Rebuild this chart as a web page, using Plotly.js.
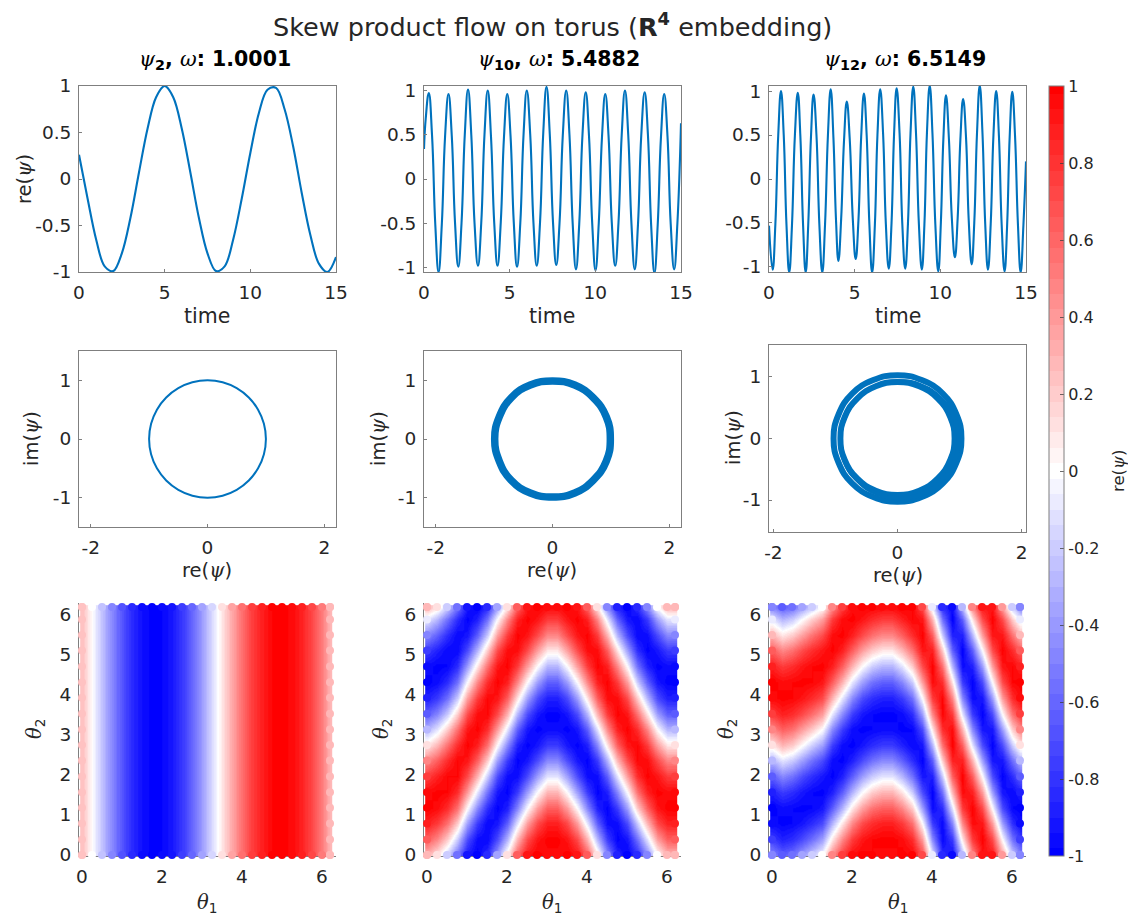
<!DOCTYPE html>
<html>
<head>
<meta charset="utf-8">
<script src="https://cdn.plot.ly/plotly-3.0.1.min.js"></script>
<style>html,body{margin:0;padding:0;background:#fff}#chart{width:1128px;height:917px}</style>
</head>
<body>
<div id="chart"></div>
<script>
// ---------- values ----------
var time1 = [0,.5,1,1.5,2,2.5,3,3.5,4,4.5,5,5.5,6,6.5,7,7.5,8,8.5,9,9.5,10,10.5,11,11.5,12,12.5,13,13.5,14,14.5,15];
var re1 = [.26,-.21,-.65,-.94,-.99,-.80,-.42,.07,.54,.88,1,.88,.54,.07,-.42,-.80,-.99,-.94,-.65,-.21,.28,.71,.96,.98,.75,.35,-.15,-.6,-.91,-1,-.84];

var time2 = [0,.1,.28,.47,.66,.85,1.04,1.23,1.43,1.62,1.81,2,2.19,2.38,2.57,2.76,2.95,3.15,3.34,3.53,3.72,3.91,4.1,4.29,4.48,4.67,4.86,5.05,5.24,5.43,5.62,5.81,6,6.2,6.39,6.58,6.77,6.96,7.15,7.34,7.53,7.72,7.91,8.1,8.3,8.49,8.68,8.87,9.06,9.25,9.44,9.63,9.82,10.01,10.2,10.39,10.58,10.77,10.96,11.16,11.35,11.54,11.73,11.92,12.11,12.3,12.49,12.68,12.88,13.07,13.26,13.45,13.64,13.83,14.02,14.21,14.4,14.6,14.79,15];
var re2 = [.34,.68,.97,.49,-.52,-1.05,-.51,.48,.96,.49,-.49,-.99,-.5,.5,1.01,.5,-.5,-.98,-.5,.5,1,.48,-.5,-.98,-.49,.48,.96,.49,-.49,-.99,-.5,.5,1,.5,-.5,-.98,-.5,.52,1.04,.51,-.49,-.97,-.5,.49,1,.5,-.51,-1.02,-.51,.5,.98,.49,-.51,-1.03,-.5,.48,.96,.49,-.49,-.98,-.5,.5,1,.5,-.51,-1.02,-.51,.49,.98,.5,-.53,-1.06,-.52,.47,.96,.49,-.51,-1.02,-.5,.63];

var time3 = [0,.21,.37,.54,.7,.86,1.02,1.18,1.34,1.51,1.68,1.83,1.99,2.14,2.29,2.45,2.6,2.77,2.94,3.11,3.27,3.44,3.6,3.76,3.91,4.05,4.21,4.38,4.54,4.71,4.89,5.06,5.22,5.38,5.54,5.7,5.86,6.02,6.18,6.33,6.49,6.66,6.82,6.99,7.15,7.3,7.45,7.62,7.78,7.95,8.11,8.26,8.42,8.58,8.75,8.92,9.07,9.22,9.38,9.54,9.71,9.88,10.03,10.18,10.33,10.5,10.67,10.85,11.01,11.17,11.33,11.5,11.66,11.83,11.98,12.14,12.3,12.46,12.62,12.78,12.94,13.1,13.26,13.42,13.58,13.75,13.9,14.05,14.2,14.36,14.53,14.69,14.85,15];
var re3 = [-.53,-1.03,-.52,.5,1,.5,-.52,-1.06,-.53,.49,.98,.49,-.53,-1.06,-.52,.48,.96,.5,-.52,-1.06,-.52,.5,1.02,.47,-.46,-.93,-.46,.44,.88,.46,-.45,-.91,-.47,.48,.97,.5,-.52,-1.06,-.52,.5,1.02,.51,-.51,-1.02,-.51,.51,1.03,.52,-.51,-1.02,-.51,.52,1.05,.52,-.52,-1.03,-.52,.53,1.06,.52,-.52,-1.05,-.5,.47,.95,.46,-.44,-.89,-.45,.45,.91,.47,-.48,-.97,-.5,.52,1.06,.52,-.51,-1.03,-.51,.5,1,.49,-.52,-1.05,-.52,.49,.99,.49,-.52,-1.06,-.52,.2];

var orbit1Re = [1,.966,.866,.707,.5,.259,0,-.259,-.5,-.707,-.866,-.966,-1,-.966,-.866,-.707,-.5,-.259,0,.259,.5,.707,.866,.966,1];
var orbit1Im = [0,.259,.5,.707,.866,.966,1,.966,.866,.707,.5,.259,0,-.259,-.5,-.707,-.866,-.966,-1,-.966,-.866,-.707,-.5,-.259,0];
var orbit2Re = [.99,.92,.70,.38,0,-.38,-.70,-.91,-.99,-.91,-.71,-.38,0,.38,.70,.92,.99];
var orbit2Im = [0,.38,.70,.92,.99,.92,.71,.38,0,-.38,-.70,-.92,-.99,-.92,-.70,-.38,0];
var orbit3aRe = [1.03,.95,.73,.39,0,-.39,-.73,-.95,-1.03,-.95,-.73,-.39,0,.39,.73,.95,1.03];
var orbit3aIm = [0,.39,.73,.95,1.03,.95,.73,.39,0,-.39,-.73,-.95,-1.03,-.95,-.73,-.39,0];
var orbit3bRe = [.92,.85,.65,.35,0,-.35,-.65,-.85,-.92,-.85,-.65,-.35,0,.35,.65,.85,.92];
var orbit3bIm = [0,.35,.65,.85,.92,.85,.65,.35,0,-.35,-.65,-.85,-.92,-.85,-.65,-.35,0];
var orbit3cRe = [.98,.91,.70,.39,.03,-.33,-.64,-.85,-.92,-.85,-.64,-.33,.03,.39,.70,.91,.98];
var orbit3cIm = [-.02,.34,.65,.86,.93,.86,.65,.34,-.02,-.38,-.69,-.90,-.97,-.90,-.69,-.38,-.02];

var theta1 = [0,.25,.5,.75,1,1.25,1.5,1.75,2,2.25,2.5,2.75,3,3.25,3.5,3.75,4,4.25,4.5,4.75,5,5.25,5.5,5.75,6,6.2];
var theta2 = [0,.39,.79,1.18,1.57,1.96,2.36,2.75,3.14,3.53,3.93,4.32,4.71,5.11,5.5,5.89,6.2];

var field1Profile = [.25,0,-.25,-.48,-.68,-.84,-.95,-1,-.98,-.91,-.78,-.6,-.38,-.14,.11,.35,.57,.76,.89,.98,1,.96,.86,.71,.51,.28];

// one inner list per theta1 column, bottom to top
var field2Columns = [
[.29,.63,.88,1,.96,.77,.47,.10,-.29,-.63,-.88,-1,-.96,-.77,-.47,-.10,.29],
[.10,.47,.77,.96,1,.88,.63,.29,-.10,-.47,-.77,-.96,-1,-.88,-.63,-.29,.10],
[-.20,.20,.56,.83,.98,.98,.83,.56,.20,-.20,-.56,-.83,-.98,-.98,-.83,-.56,-.20],
[-.56,-.20,.20,.56,.83,.98,.98,.83,.56,.20,-.20,-.56,-.83,-.98,-.98,-.83,-.56],
[-.92,-.71,-.38,0,.38,.71,.92,1,.92,.71,.38,0,-.38,-.71,-.92,-1,-.92],
[-1,-.96,-.77,-.47,-.10,.29,.63,.88,1,.96,.77,.47,.10,-.29,-.63,-.88,-1],
[-.83,-.98,-.98,-.83,-.56,-.20,.20,.56,.83,.98,.98,.83,.56,.20,-.20,-.56,-.83],
[-.38,-.71,-.92,-1,-.92,-.71,-.38,0,.38,.71,.92,1,.92,.71,.38,0,-.38],
[.10,-.29,-.63,-.88,-1,-.96,-.77,-.47,-.10,.29,.63,.88,1,.96,.77,.47,.10],
[.63,.29,-.10,-.47,-.77,-.96,-1,-.88,-.63,-.29,.10,.47,.77,.96,1,.88,.63],
[.92,.71,.38,0,-.38,-.71,-.92,-1,-.92,-.71,-.38,0,.38,.71,.92,1,.92],
[1,.92,.71,.38,0,-.38,-.71,-.92,-1,-.92,-.71,-.38,0,.38,.71,.92,1],
[.96,1,.88,.63,.29,-.10,-.47,-.77,-.96,-1,-.88,-.63,-.29,.10,.47,.77,.96],
[.96,1,.88,.63,.29,-.10,-.47,-.77,-.96,-1,-.88,-.63,-.29,.10,.47,.77,.96],
[1,.92,.71,.38,0,-.38,-.71,-.92,-1,-.92,-.71,-.38,0,.38,.71,.92,1],
[.92,.71,.38,0,-.38,-.71,-.92,-1,-.92,-.71,-.38,0,.38,.71,.92,1,.92],
[.63,.29,-.10,-.47,-.77,-.96,-1,-.88,-.63,-.29,.10,.47,.77,.96,1,.88,.63],
[.10,-.29,-.63,-.88,-1,-.96,-.77,-.47,-.10,.29,.63,.88,1,.96,.77,.47,.10],
[-.47,-.77,-.96,-1,-.88,-.63,-.29,.10,.47,.77,.96,1,.88,.63,.29,-.10,-.47],
[-.88,-1,-.96,-.77,-.47,-.10,.29,.63,.88,1,.96,.77,.47,.10,-.29,-.63,-.88],
[-1,-.92,-.71,-.38,0,.38,.71,.92,1,.92,.71,.38,0,-.38,-.71,-.92,-1],
[-.83,-.56,-.20,.20,.56,.83,.98,.98,.83,.56,.20,-.20,-.56,-.83,-.98,-.98,-.83],
[-.47,-.10,.29,.63,.88,1,.96,.77,.47,.10,-.29,-.63,-.88,-1,-.96,-.77,-.47],
[0,.38,.71,.92,1,.92,.71,.38,0,-.38,-.71,-.92,-1,-.92,-.71,-.38,0],
[.29,.63,.88,1,.96,.77,.47,.10,-.29,-.63,-.88,-1,-.96,-.77,-.47,-.10,.29],
[.29,.63,.88,1,.96,.77,.47,.10,-.29,-.63,-.88,-1,-.96,-.77,-.47,-.10,.29]
];

var field3Columns = [
[-.47,-.77,-.96,-1,-.88,-.63,-.29,.10,.47,.77,.96,1,.88,.63,.29,-.10,-.47],
[-.63,-.88,-1,-.96,-.77,-.47,-.10,.29,.63,.88,1,.96,.77,.47,.10,-.29,-.63],
[-.56,-.83,-.98,-.98,-.83,-.56,-.20,.20,.56,.83,.98,.98,.83,.56,.20,-.20,-.56],
[-.38,-.71,-.92,-1,-.92,-.71,-.38,0,.38,.71,.92,1,.92,.71,.38,0,-.38],
[-.20,-.56,-.83,-.98,-.98,-.83,-.56,-.20,.20,.56,.83,.98,.98,.83,.56,.20,-.20],
[0,-.38,-.71,-.92,-1,-.92,-.71,-.38,0,.38,.71,.92,1,.92,.71,.38,0],
[.47,.10,-.29,-.63,-.88,-1,-.96,-.77,-.47,-.10,.29,.63,.88,1,.96,.77,.47],
[.77,.47,.10,-.29,-.63,-.88,-1,-.96,-.77,-.47,-.10,.29,.63,.88,1,.96,.77],
[.96,.77,.47,.10,-.29,-.63,-.88,-1,-.96,-.77,-.47,-.10,.29,.63,.88,1,.96],
[1,.92,.71,.38,0,-.38,-.71,-.92,-1,-.92,-.71,-.38,0,.38,.71,.92,1],
[.98,.98,.83,.56,.20,-.20,-.56,-.83,-.98,-.98,-.83,-.56,-.20,.20,.56,.83,.98],
[.96,1,.88,.63,.29,-.10,-.47,-.77,-.96,-1,-.88,-.63,-.29,.10,.47,.77,.96],
[.96,1,.88,.63,.29,-.10,-.47,-.77,-.96,-1,-.88,-.63,-.29,.10,.47,.77,.96],
[1,.96,.77,.47,.10,-.29,-.63,-.88,-1,-.96,-.77,-.47,-.10,.29,.63,.88,1],
[.98,.83,.56,.20,-.20,-.56,-.83,-.98,-.98,-.83,-.56,-.20,.20,.56,.83,.98,.98],
[.71,.38,0,-.38,-.71,-.92,-1,-.92,-.71,-.38,0,.38,.71,.92,1,.92,.71],
[-.10,-.47,-.77,-.96,-1,-.88,-.63,-.29,.10,.47,.77,.96,1,.88,.63,.29,-.10],
[-.83,-.98,-.98,-.83,-.56,-.20,.20,.56,.83,.98,.98,.83,.56,.20,-.20,-.56,-.83],
[-.96,-.77,-.47,-.10,.29,.63,.88,1,.96,.77,.47,.10,-.29,-.63,-.88,-1,-.96],
[-.29,.10,.47,.77,.96,1,.88,.63,.29,-.10,-.47,-.77,-.96,-1,-.88,-.63,-.29],
[.47,.77,.96,1,.88,.63,.29,-.10,-.47,-.77,-.96,-1,-.88,-.63,-.29,.10,.47],
[.92,1,.92,.71,.38,0,-.38,-.71,-.92,-1,-.92,-.71,-.38,0,.38,.71,.92],
[.92,.71,.38,0,-.38,-.71,-.92,-1,-.92,-.71,-.38,0,.38,.71,.92,1,.92],
[.38,0,-.38,-.71,-.92,-1,-.92,-.71,-.38,0,.38,.71,.92,1,.92,.71,.38],
[-.20,-.56,-.83,-.98,-.98,-.83,-.56,-.20,.20,.56,.83,.98,.98,.83,.56,.20,-.20],
[-.47,-.77,-.96,-1,-.88,-.63,-.29,.10,.47,.77,.96,1,.88,.63,.29,-.10,-.47]
];

var timeTicks = [0,5,10,15];
var reTicks = [-1,-.5,0,.5,1];
var reTickText = ['-1','-0.5','0','0.5','1'];
var orbitXTicks = [-2,0,2];
var orbitXText = ['-2','0','2'];
var orbitYTicks = [-1,0,1];
var orbitYText = ['-1','0','1'];
var thetaXTicks = [0,2,4,6];
var thetaYTicks = [0,1,2,3,4,5,6];
var cbarTicks = [-1,-.8,-.6,-.4,-.2,0,.2,.4,.6,.8,1];
var cbarText = ['-1','-0.8','-0.6','-0.4','-0.2','0','0.2','0.4','0.6','0.8','1'];

// ---------- styles and layout ----------
var W = 1128, H = 917;
var BLUE = '#0072BD', INK = '#262626', GREY = '#7f7f7f', FONT = '"DejaVu Sans", sans-serif';
var PSI = '<span style="font-family:\'DejaVu Serif\';font-style:italic;font-weight:normal">ψ</span>';
var OM = '<span style="font-family:\'DejaVu Serif\';font-style:italic;font-weight:normal">ω</span>';
var TH = '<span style="font-family:\'DejaVu Serif\';font-style:italic">θ</span>';

function bandColor(z){
  var v = Math.round(Math.max(-1,Math.min(1,z))/.04)*.04, s = Math.round(255*(1-Math.abs(v)));
  return v >= 0 ? 'rgb(255,'+s+','+s+')' : 'rgb('+s+','+s+',255)';
}
var scale = [];
for (var k = -25; k <= 25; k++) {
  var lo = Math.max(-1, (k - .5) * .04), hi = Math.min(1, (k + .5) * .04);
  var c = bandColor(k * .04);
  scale.push([(lo + 1) / 2, c]); scale.push([(hi + 1) / 2, c]);
}

var colX = [[79,336],[424,681],[769,1026]];
var layout = {
  width: W, height: H, margin: {l:0,r:0,t:0,b:0}, paper_bgcolor:'#fff', plot_bgcolor:'#fff',
  showlegend:false, font:{family:FONT,size:18,color:INK}, annotations:[]
};
function dom(a,b,size){return [a/size,b/size];}
function setAxes(n,col,top,bot,xr,yr,xt,xtt,yt,ytt,box,ticks){
  var base = {showgrid:false,zeroline:false,showline:true,linecolor:GREY,linewidth:1,
    ticks:ticks?'inside':'',ticklen:3,tickwidth:1,tickcolor:GREY,mirror:box,fixedrange:true,
    tickfont:{family:FONT,size:18.5,color:INK},tickmode:'array'};
  layout['xaxis'+n] = Object.assign({},base,{domain:dom(colX[col][0],colX[col][1],W),range:xr,anchor:'y'+n,tickvals:xt,ticktext:xtt,ticklabelstandoff:4,layer:ticks?'above traces':'below traces'});
  layout['yaxis'+n] = Object.assign({},base,{domain:[1-bot/H,1-top/H],range:yr,anchor:'x'+n,tickvals:yt,ticktext:ytt,ticklabelstandoff:3,layer:ticks?'above traces':'below traces'});
}
function note(x,y,text,size,rot,color){
  layout.annotations.push({xref:'paper',yref:'paper',x:x/W,y:1-y/H,text:text,showarrow:false,
    xanchor:'center',yanchor:'middle',textangle:rot||0,font:{family:FONT,size:size,color:color||INK}});
}
var timeTxt = timeTicks.map(String);
var thXT = thetaXTicks.map(String), thYT = thetaYTicks.map(String);
setAxes(1,0,86,272,[0,15],[-1,1],timeTicks,timeTxt,reTicks,reTickText,true,true);
setAxes(2,1,86,272,[0,15],[-1.05,1.05],timeTicks,timeTxt,reTicks,reTickText,true,true);
setAxes(3,2,86,272,[0,15],[-1.057,1.057],timeTicks,timeTxt,reTicks,reTickText,true,true);
setAxes(4,0,351,527,[-2.2,2.2],[-1.5,1.5],orbitXTicks,orbitXText,orbitYTicks,orbitYText,true,true);
setAxes(5,1,351,527,[-2.2,2.2],[-1.5,1.5],orbitXTicks,orbitXText,orbitYTicks,orbitYText,true,true);
setAxes(6,2,345,532,[-2.07,2.07],[-1.52,1.52],orbitXTicks,orbitXText,orbitYTicks,orbitYText,true,true);
setAxes(7,0,603,856,[-.075,6.35],[-.025,6.3],thetaXTicks,thXT,thetaYTicks,thYT,false,false);
setAxes(8,1,603,856,[-.075,6.35],[-.025,6.3],thetaXTicks,thXT,thetaYTicks,thYT,false,false);
setAxes(9,2,603,856,[-.075,6.35],[-.025,6.3],thetaXTicks,thXT,thetaYTicks,thYT,false,false);

var traces = [];
function line(n,x,y,w,smooth){
  traces.push({type:'scatter',mode:'lines',x:x,y:y,xaxis:'x'+n,yaxis:'y'+n,hoverinfo:'skip',
    line:{color:BLUE,width:w,shape:'spline',smoothing:smooth}});
}
line(1,time1,re1,2.1,1); line(2,time2,re2,2.1,1.3); line(3,time3,re3,2.1,1.3);
line(4,orbit1Re,orbit1Im,2,1.3); line(5,orbit2Re,orbit2Im,7.5,1.3);
line(6,orbit3aRe,orbit3aIm,6,1.3); line(6,orbit3bRe,orbit3bIm,6,1.3); line(6,orbit3cRe,orbit3cIm,4,1.3);

function field(n,cols,withBar){
  // a thin copy of the outer cells stops the image just past the outer grid lines
  var px = [-.03].concat(theta1,[6.23]), py = [-.03].concat(theta2,[6.23]);
  var pz = [cols[0]].concat(cols,[cols[cols.length-1]]).map(function(c){return [c[0]].concat(c,[c[c.length-1]]);});
  var t = {type:'heatmap',x:px,y:py,z:pz,transpose:true,zsmooth:'best',zmin:-1,zmax:1,
    colorscale:scale,xaxis:'x'+n,yaxis:'y'+n,hoverinfo:'skip',showscale:!!withBar};
  if (withBar) t.colorbar = {x:1049/W,xanchor:'left',xpad:0,ypad:0,y:1-86/H,yanchor:'top',len:770/H,lenmode:'fraction',
    thickness:15,thicknessmode:'pixels',outlinecolor:GREY,outlinewidth:1,borderwidth:0,
    tickmode:'array',tickvals:cbarTicks,ticktext:cbarText,ticks:'inside',ticklen:4,tickcolor:'rgba(60,60,60,.75)',
    ticklabelstandoff:3,tickfont:{family:FONT,size:16,color:INK}};
  traces.push(t);
  // the scattered dots that spill past the edge of the square
  var ex=[],ey=[],ez=[],last=theta2.length-1,right=theta1.length-1;
  theta1.forEach(function(x,i){ex.push(x,x);ey.push(0,theta2[last]);ez.push(cols[i][0],cols[i][last]);});
  theta2.forEach(function(y,j){ex.push(0,theta1[right]);ey.push(y,y);ez.push(cols[0][j],cols[right][j]);});
  traces.push({type:'scatter',mode:'markers',x:ex,y:ey,xaxis:'x'+n,yaxis:'y'+n,cliponaxis:false,hoverinfo:'skip',
    marker:{size:8,color:ez.map(bandColor),line:{width:0}}});
}
field(7,theta1.map(function(_,i){return theta2.map(function(){return field1Profile[i];});}),true);
field(8,field2Columns,false);
field(9,field3Columns,false);

note(552,25,'Skew product flow on torus (<b>R</b><sup><b>4</b></sup> embedding)',25.5);
note(215,60,'<b>'+PSI+'<sub>2</sub>, '+OM+': 1.0001</b>',20.5,0,'#000');
note(559,60,'<b>'+PSI+'<sub>10</sub>, '+OM+': 5.4882</b>',20.5,0,'#000');
note(905,60,'<b>'+PSI+'<sub>12</sub>, '+OM+': 6.5149</b>',20.5,0,'#000');
[207,552,898].forEach(function(x){note(x,316,'time',20.5);});
note(24,179,'re('+PSI+')',19.5,-90);
note(207,570,'re('+PSI+')',19.5); note(552,570,'re('+PSI+')',19.5); note(898,575,'re('+PSI+')',19.5);
note(31,439,'im('+PSI+')',19.5,-90); note(378,439,'im('+PSI+')',19.5,-90); note(733,438,'im('+PSI+')',19.5,-90);
[207,552,898].forEach(function(x){note(x,903,TH+'<sub>1</sub>',19.5);});
[35,382,727].forEach(function(x){note(x,729,TH+'<sub>2</sub>',19.5,-90);});
note(1118,471,'re('+PSI+')',16.5,-90);

Plotly.newPlot('chart',traces,layout,{displayModeBar:false,staticPlot:true});
</script>
</body>
</html>
